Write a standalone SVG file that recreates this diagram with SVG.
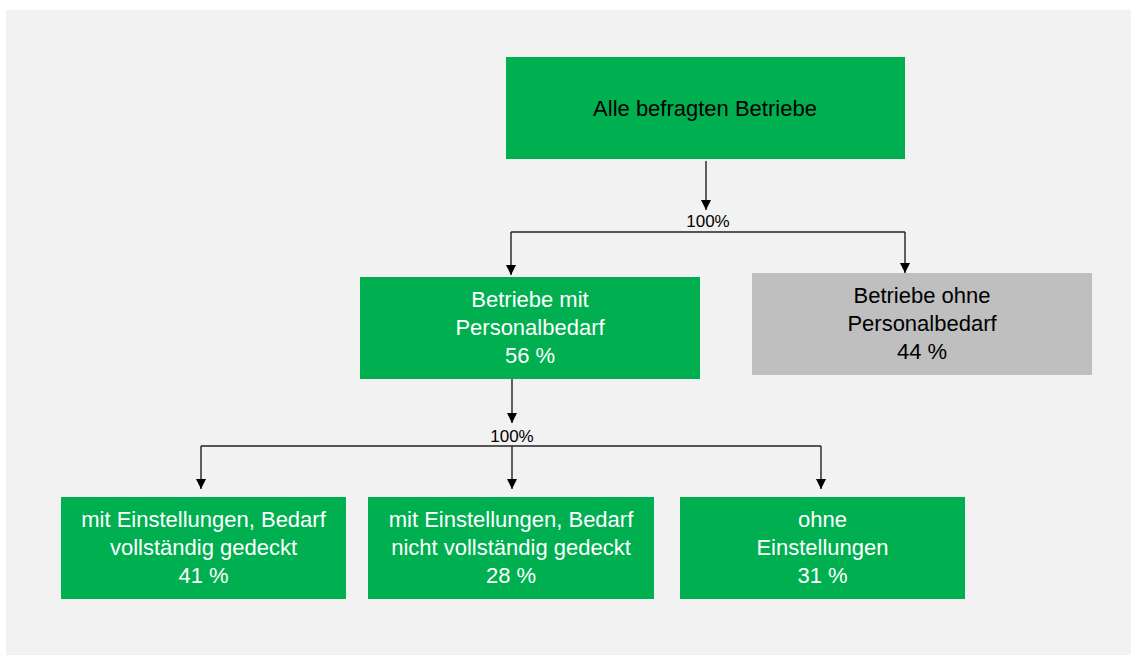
<svg xmlns="http://www.w3.org/2000/svg" width="1131" height="655" viewBox="0 0 1131 655">
  <defs>
    <marker id="arr" viewBox="0 0 10 10" refX="10" refY="5" markerWidth="10" markerHeight="10" markerUnits="userSpaceOnUse" orient="auto">
      <path d="M0,0 L10,5 L0,10 Z" fill="#000"/>
    </marker>
    <style>
      .bg { fill: #ffffff; }
      .panel { fill: #f2f2f2; }
      .green { fill: #00b050; }
      .gray { fill: #bfbfbf; }
      text { font-family: "Liberation Sans", Arial, sans-serif; font-size: 22px; text-anchor: middle; }
      .w { fill: #ffffff; }
      .k { fill: #000000; }
      .lbl { font-size: 17px; fill: #000; }
      .conn path { fill: none; stroke: #222; stroke-width: 1.4; }
    </style>
  </defs>
  <rect class="bg" x="0" y="0" width="1131" height="655"/>
  <rect class="panel" x="6" y="10" width="1125" height="645"/>

  <g id="connectors" class="conn">
    <path d="M706,161 V210" marker-end="url(#arr)"/>
    <path d="M511,232 H905"/>
    <path d="M511,232 V275" marker-end="url(#arr)"/>
    <path d="M905,232 V273" marker-end="url(#arr)"/>
    <path d="M512,379 V423" marker-end="url(#arr)"/>
    <path d="M201,446 H821"/>
    <path d="M201,446 V489" marker-end="url(#arr)"/>
    <path d="M512,446 V489" marker-end="url(#arr)"/>
    <path d="M821,446 V489" marker-end="url(#arr)"/>
  </g>
  <g id="labels">
    <text class="lbl" x="708" y="227">100%</text>
    <text class="lbl" x="512" y="442">100%</text>
  </g>

  <g id="node-alle">
    <rect class="green" x="506" y="57" width="399" height="102"/>
    <text class="k" x="705" y="116">Alle befragten Betriebe</text>
  </g>

  <g id="node-mit-bedarf">
    <rect class="green" x="360" y="277" width="340" height="102"/>
    <text class="w" x="530" y="307">Betriebe mit</text>
    <text class="w" x="530" y="335">Personalbedarf</text>
    <text class="w" x="530" y="363">56 %</text>
  </g>

  <g id="node-ohne-bedarf">
    <rect class="gray" x="752" y="273" width="340" height="102"/>
    <text class="k" x="922" y="303">Betriebe ohne</text>
    <text class="k" x="922" y="331">Personalbedarf</text>
    <text class="k" x="922" y="359">44 %</text>
  </g>

  <g id="node-gedeckt">
    <rect class="green" x="61" y="497" width="285" height="102"/>
    <text class="w" x="203.5" y="527">mit Einstellungen, Bedarf</text>
    <text class="w" x="203.5" y="555">vollständig gedeckt</text>
    <text class="w" x="203.5" y="583">41 %</text>
  </g>

  <g id="node-nicht-gedeckt">
    <rect class="green" x="368" y="497" width="286" height="102"/>
    <text class="w" x="511" y="527">mit Einstellungen, Bedarf</text>
    <text class="w" x="511" y="555">nicht vollständig gedeckt</text>
    <text class="w" x="511" y="583">28 %</text>
  </g>

  <g id="node-ohne-einstellungen">
    <rect class="green" x="680" y="497" width="285" height="102"/>
    <text class="w" x="822.5" y="527">ohne</text>
    <text class="w" x="822.5" y="555">Einstellungen</text>
    <text class="w" x="822.5" y="583">31 %</text>
  </g>
</svg>
